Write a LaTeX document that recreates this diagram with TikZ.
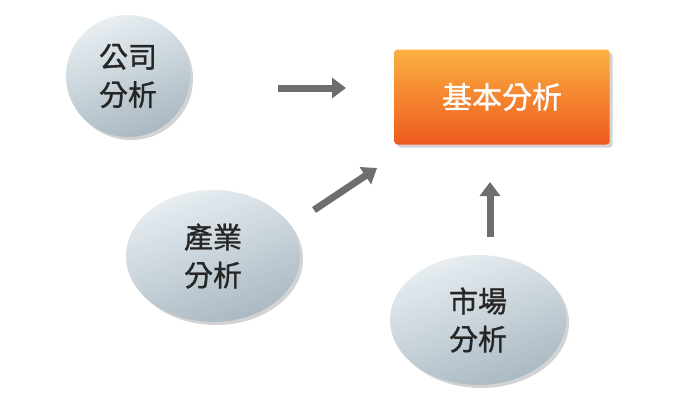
\documentclass[tikz,border=0pt]{standalone}
\usepackage{fontspec}
\newfontfamily\cjk{Noto Sans CJK TC}[FakeBold=1.2]
\usetikzlibrary{shadows,arrows.meta,shapes.geometric}
\definecolor{ellA}{HTML}{E8EEF2}
\definecolor{ellB}{HTML}{A9B8C2}
\definecolor{boxA}{HTML}{FBB040}
\definecolor{boxB}{HTML}{EE5A1E}
\definecolor{arr}{HTML}{6E6E6E}
\tikzset{
  bubble/.style={ellipse, inner sep=0pt, top color=ellA, bottom color=ellB, shading angle=20,
    drop shadow={opacity=0.35, shadow xshift=3pt, shadow yshift=-3pt},
    font=\cjk\fontsize{29}{38}\selectfont, text=black!85, align=center},
  mainbox/.style={rounded corners=3pt, top color=boxA, bottom color=boxB,
    drop shadow={opacity=0.35, shadow xshift=3pt, shadow yshift=-3pt},
    font=\cjk\fontsize{30}{34}\selectfont, text=white, minimum width=215pt, minimum height=95pt},
  bigarrow/.style={draw=arr, line width=7pt, -{Triangle[length=14pt,width=20pt]}}
}
\begin{document}
\begin{tikzpicture}[x=1pt,y=-1pt]
\useasboundingbox (0,0) rectangle (700,408);
\node[bubble, minimum width=124pt, minimum height=122pt] (gs) at (128,76) {公司\\分析};
\node[bubble, minimum width=174pt, minimum height=132pt] (cy) at (213,256) {產業\\分析};
\node[bubble, minimum width=176pt, minimum height=130pt] (sc) at (478,320) {市場\\分析};
\node[mainbox] (jb) at (502,97) {基本分析};
\coordinate (a1s) at (278,88); \coordinate (a1e) at (346,88);
\coordinate (a2s) at (314,210); \coordinate (a2e) at (377,168);
\coordinate (a3s) at (490,237); \coordinate (a3e) at (490,182);
\draw[bigarrow] (a1s) -- (a1e);
\draw[bigarrow] (a2s) -- (a2e);
\draw[bigarrow] (a3s) -- (a3e);
\end{tikzpicture}
\end{document}
